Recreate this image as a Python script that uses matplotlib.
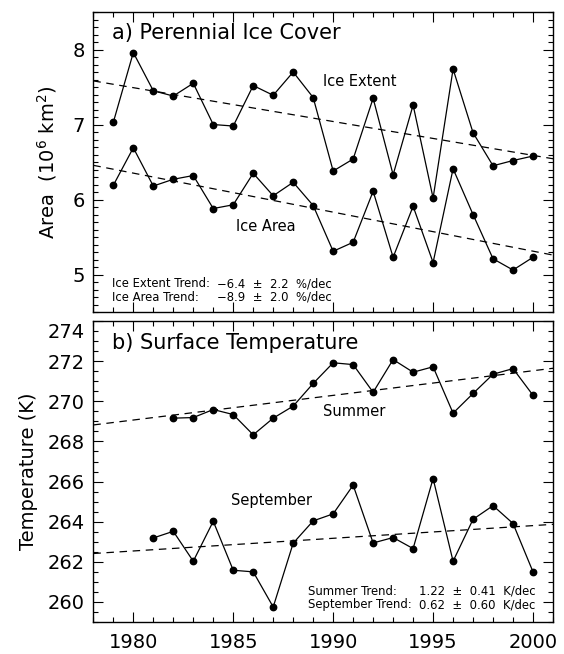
import numpy as np
import matplotlib
matplotlib.use("Agg")
import matplotlib.pyplot as plt
from matplotlib.ticker import MultipleLocator, FixedLocator, FixedFormatter
import matplotlib.transforms as mtransforms

plt.rcParams['font.family'] = ['DejaVu Sans']
plt.rcParams['mathtext.default'] = 'regular'

# ---- data ----
years_ice = list(range(1979, 2001))
ice_extent = [7.03, 7.96, 7.45, 7.38, 7.55, 7.00, 6.98, 7.52, 7.39, 7.70, 7.36,
              6.38, 6.54, 7.35, 6.33, 7.26, 6.02, 7.74, 6.89, 6.45, 6.52, 6.58]
ice_area = [6.19, 6.69, 6.18, 6.27, 6.32, 5.88, 5.93, 6.35, 6.05, 6.23, 5.92,
            5.31, 5.43, 6.11, 5.23, 5.91, 5.16, 6.41, 5.80, 5.21, 5.06, 5.23]

years_summer = list(range(1982, 2001))
summer_temp = [269.16, 269.19, 269.59, 269.34, 268.33, 269.16, 269.76, 270.89,
               271.92, 271.83, 270.45, 272.08, 271.45, 271.72, 269.41, 270.39,
               271.35, 271.63, 270.30]

years_sept = list(range(1981, 2001))
sept_temp = [263.19, 263.52, 262.03, 264.02, 261.58, 261.50, 259.75, 262.93,
             264.04, 264.39, 265.82, 262.94, 263.21, 262.66, 266.15, 262.03,
             264.12, 264.80, 263.91, 261.50]

x_ticks = [1980, 1985, 1990, 1995, 2000]
x_ticklabels = ['1980', '1985', '1990', '1995', '2000']
top_yticks = [5, 6, 7, 8]
top_yticklabels = ['5', '6', '7', '8']
bot_yticks = [260, 262, 264, 266, 268, 270, 272, 274]
bot_yticklabels = ['260', '262', '264', '266', '268', '270', '272', '274']

top_title = 'a) Perennial Ice Cover'
bot_title = 'b) Surface Temperature'
top_trend_names = ['Ice Extent Trend:', 'Ice Area Trend:']
top_trend_vals = ['\u22126.4  \u00b1  2.2  %/dec', '\u22128.9  \u00b1  2.0  %/dec']
bot_trend_names = ['Summer Trend:', 'September Trend:']
bot_trend_vals = ['1.22  \u00b1  0.41  K/dec', '0.62  \u00b1  0.60  K/dec']

# ---- figure ----
fig = plt.figure(figsize=(5.64, 6.54), dpi=100)
ax1 = fig.add_axes([0.1655, 0.5229, 0.815, 0.4587])
ax2 = fig.add_axes([0.1655, 0.0489, 0.815, 0.4602])

xlim = (1978, 2001)
lw = 0.9
ms = 4.6
tfs = 8.4

def style(ax):
    ax.set_xlim(*xlim)
    ax.xaxis.set_major_locator(FixedLocator(x_ticks))
    ax.xaxis.set_minor_locator(MultipleLocator(1))
    ax.tick_params(which='both', direction='in', top=True, right=True,
                   width=0.8, colors='black')
    ax.tick_params(which='major', length=7)
    ax.tick_params(which='minor', length=3.5)
    ax.tick_params(axis='y', labelsize=14, pad=6)
    ax.tick_params(axis='x', labelsize=14, pad=8)
    for s in ax.spines.values():
        s.set_linewidth(1.0)

def trend(ax, xs, ys):
    p = np.polyfit(xs, ys, 1)
    xx = np.array(xlim, dtype=float)
    ax.plot(xx, np.polyval(p, xx), color='black', lw=lw,
            dashes=(6, 4.5), zorder=2)

# top panel
for ys in (ice_extent, ice_area):
    ax1.plot(years_ice, ys, color='black', lw=lw, marker='o', ms=ms, zorder=3)
    trend(ax1, years_ice, ys)
style(ax1)
ax1.set_ylim(4.5, 8.5)
ax1.yaxis.set_major_locator(FixedLocator(top_yticks))
ax1.yaxis.set_major_formatter(FixedFormatter(top_yticklabels))
ax1.yaxis.set_minor_locator(MultipleLocator(0.1))
ax1.tick_params(axis='x', labelbottom=False)
ax1.set_ylabel('Area  (10$^6$ km$^2$)', fontsize=14, labelpad=10)
ax1.text(0.040, 0.93, top_title, transform=ax1.transAxes, fontsize=15,
         ha='left', va='center')
ax1.text(0.500, 0.77, 'Ice Extent', transform=ax1.transAxes, fontsize=10.5,
         ha='left', va='center')
ax1.text(0.310, 0.285, 'Ice Area', transform=ax1.transAxes, fontsize=10.5,
         ha='left', va='center')
for i, (n, v) in enumerate(zip(top_trend_names, top_trend_vals)):
    yy = 0.095 - i * 0.045
    ax1.text(0.040, yy, n, transform=ax1.transAxes, fontsize=tfs,
             ha='left', va='center')
    ax1.text(0.268, yy, v, transform=ax1.transAxes, fontsize=tfs,
             ha='left', va='center')

# bottom panel
for xs, ys in ((years_summer, summer_temp), (years_sept, sept_temp)):
    ax2.plot(xs, ys, color='black', lw=lw, marker='o', ms=ms, zorder=3)
    trend(ax2, xs, ys)
style(ax2)
ax2.set_ylim(259, 274)
ax2.yaxis.set_major_locator(FixedLocator(bot_yticks))
ax2.yaxis.set_major_formatter(FixedFormatter(bot_yticklabels))
ax2.yaxis.set_minor_locator(MultipleLocator(0.5))
ax2.xaxis.set_major_formatter(FixedFormatter(x_ticklabels))
ax2.set_ylabel('Temperature (K)', fontsize=14, labelpad=7)
ax2.text(0.040, 0.928, bot_title, transform=ax2.transAxes, fontsize=15,
         ha='left', va='center')
ax2.text(0.500, 0.70, 'Summer', transform=ax2.transAxes, fontsize=10.5,
         ha='left', va='center')
ax2.text(0.300, 0.403, 'September', transform=ax2.transAxes, fontsize=10.5,
         ha='left', va='center')
for i, (n, v) in enumerate(zip(bot_trend_names, bot_trend_vals)):
    yy = 0.103 - i * 0.046
    ax2.text(0.467, yy, n, transform=ax2.transAxes, fontsize=tfs,
             ha='left', va='center')
    ax2.text(0.7085, yy, v, transform=ax2.transAxes, fontsize=tfs,
             ha='left', va='center')

# shift top temperature label down slightly (as in reference)
fig.canvas.draw()
off = mtransforms.ScaledTranslation(0, -7 / 72, fig.dpi_scale_trans)
for t in ax2.yaxis.get_major_ticks():
    if t.label1.get_text() == '274':
        t.label1.set_transform(t.label1.get_transform() + off)

fig.savefig('out.png', dpi=100)
